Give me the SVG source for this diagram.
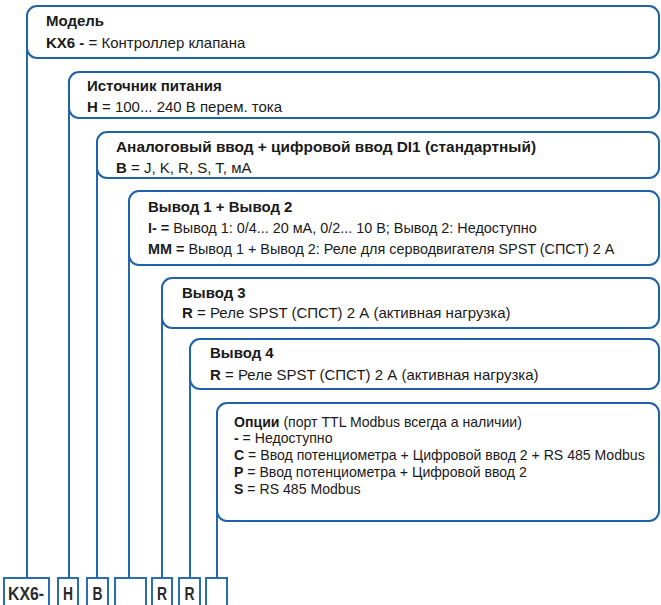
<svg xmlns="http://www.w3.org/2000/svg" width="661" height="605" viewBox="0 0 661 605">
<style>
.box{fill:#fff;stroke:#1f62a8;stroke-width:2}
.con{stroke:#2566ad;stroke-width:2;fill:none}
.sel{fill:#fff;stroke:#2a6db4;stroke-width:2}
.t{font-family:"Liberation Sans",Arial,sans-serif;font-size:15px;fill:#1a1a1a}
.m{font-size:14.4px}
.s{font-family:"Liberation Sans",Arial,sans-serif;font-size:14.1px;fill:#1a1a1a}
.b{font-weight:bold}
.code{font-family:"Liberation Sans",Arial,sans-serif;font-size:18px;font-weight:bold;fill:#2b2b2b}
</style>
<rect width="661" height="605" fill="#fff"/>
<g id="connectors">
<line class="con" x1="27" y1="40" x2="27" y2="578"/>
<line class="con" x1="69" y1="100" x2="69" y2="578"/>
<line class="con" x1="97" y1="160" x2="97" y2="578"/>
<line class="con" x1="129" y1="245" x2="129" y2="578"/>
<line class="con" x1="162" y1="310" x2="162" y2="578"/>
<line class="con" x1="190" y1="370" x2="190" y2="578"/>
<line class="con" x1="217" y1="500" x2="217" y2="578"/>
</g>
<g id="model">
<rect class="box" x="27" y="6" width="632" height="52" rx="10"/>
<text class="t b" x="46" y="26">Модель</text>
<text class="t" x="46" y="48"><tspan class="b">KX6 - </tspan>= Контроллер клапана</text>
</g>
<g id="power">
<rect class="box" x="69" y="72" width="590" height="46" rx="10"/>
<text class="t b" x="87" y="91">Источник питания</text>
<text class="t" x="87" y="112"><tspan class="b">H</tspan> = 100... 240 В перем. тока</text>
</g>
<g id="input">
<rect class="box" x="97" y="132" width="562" height="46" rx="10"/>
<text class="t b" x="116" y="152" style="font-size:15.4px">Аналоговый ввод + цифровой ввод DI1 (стандартный)</text>
<text class="t" x="116" y="173"><tspan class="b">B</tspan> = J, K, R, S, T, мА</text>
</g>
<g id="out12">
<rect class="box" x="129" y="191" width="530" height="74" rx="10"/>
<text class="t b" x="148" y="212">Вывод 1 + Вывод 2</text>
<text class="t m" x="148" y="233"><tspan class="b">I- =</tspan> Вывод 1: 0/4... 20 мА, 0/2... 10 В; Вывод 2: Недоступно</text>
<text class="t m" x="148" y="254"><tspan class="b">MM =</tspan> Вывод 1 + Вывод 2: Реле для серводвигателя SPST (СПСТ) 2 А</text>
</g>
<g id="out3">
<rect class="box" x="162" y="278" width="497" height="50" rx="10"/>
<text class="t b" x="182" y="298">Вывод 3</text>
<text class="t" x="182" y="318"><tspan class="b">R</tspan> = Реле SPST (СПСТ) 2 А (активная нагрузка)</text>
</g>
<g id="out4">
<rect class="box" x="190" y="339" width="469" height="50" rx="10"/>
<text class="t b" x="210" y="358">Вывод 4</text>
<text class="t" x="210" y="380"><tspan class="b">R</tspan> = Реле SPST (СПСТ) 2 А (активная нагрузка)</text>
</g>
<g id="options">
<rect class="box" x="217" y="403" width="442" height="118" rx="10"/>
<text class="s" x="234" y="427"><tspan class="b">Опции</tspan> (порт TTL Modbus всегда а наличии)</text>
<text class="s" x="234" y="443"><tspan class="b">-</tspan> = Недоступно</text>
<text class="s" x="234" y="460"><tspan class="b">C</tspan> = Ввод потенциометра + Цифровой ввод 2 + RS 485 Modbus</text>
<text class="s" x="234" y="477"><tspan class="b">P</tspan> = Ввод потенциометра + Цифровой ввод 2</text>
<text class="s" x="234" y="494"><tspan class="b">S</tspan> = RS 485 Modbus</text>
</g>
<g id="code">
<rect class="sel" x="4" y="578" width="45" height="32"/>
<rect class="sel" x="58" y="578" width="20" height="32"/>
<rect class="sel" x="87" y="578" width="21" height="32"/>
<rect class="sel" x="115" y="578" width="31" height="32"/>
<rect class="sel" x="152" y="578" width="20" height="32"/>
<rect class="sel" x="179" y="578" width="21" height="32"/>
<rect class="sel" x="206" y="578" width="21" height="32"/>
<text class="code" x="8" y="600" textLength="36" lengthAdjust="spacingAndGlyphs">KX6-</text>
<text class="code" x="68" y="600" text-anchor="middle" textLength="10" lengthAdjust="spacingAndGlyphs">H</text>
<text class="code" x="97.5" y="600" text-anchor="middle" textLength="10" lengthAdjust="spacingAndGlyphs">B</text>
<text class="code" x="162" y="600" text-anchor="middle" textLength="10" lengthAdjust="spacingAndGlyphs">R</text>
<text class="code" x="189.5" y="600" text-anchor="middle" textLength="10" lengthAdjust="spacingAndGlyphs">R</text>
</g>
</svg>
